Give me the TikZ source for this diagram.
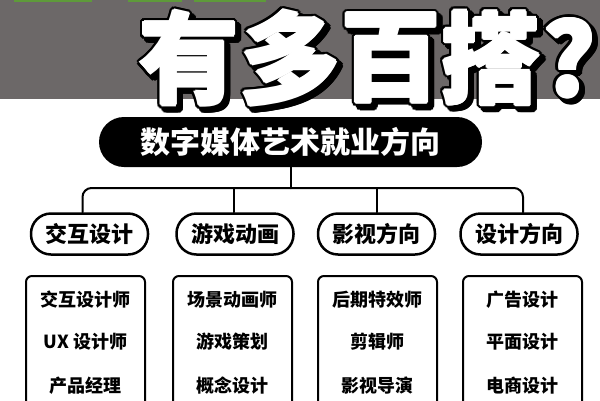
\documentclass[tikz,border=0pt]{standalone}
\usepackage{fontspec}
\newfontfamily\cjk{Noto Sans CJK SC}
\definecolor{bandgray}{HTML}{6C6868}
\definecolor{lgreen}{HTML}{5E9A3A}
\tikzset{
  conn/.style={line width=2pt, line cap=round},
  mainpill/.style={fill=black, rounded corners=25pt, minimum width=383pt, minimum height=50pt, inner sep=0pt, text=white, font=\cjk\bfseries\fontsize{30pt}{30pt}\selectfont},
  catpill/.style={draw=black, line width=2.5pt, fill=white, rounded corners=20pt, minimum width=117pt, minimum height=41pt, inner sep=0pt, font=\cjk\bfseries\fontsize{22pt}{22pt}\selectfont},
  jobbox/.style={draw=black, line width=2pt, rounded corners=6pt},
  jobtext/.style={font=\cjk\bfseries\fontsize{18pt}{18pt}\selectfont, inner sep=0pt},
  ttl/.style={font=\cjk\bfseries\fontsize{100pt}{100pt}\selectfont, inner sep=0pt}
}
\newcommand\ttlglyph[3]{%
  \foreach \a in {0,22.5,...,337.5}{\node[ttl,text=black] at ($(#1,#2)+(4,4)+(\a:3.5)$) {#3};}
  \foreach \a in {0,22.5,...,337.5}{\node[ttl,text=black] at ($(#1,#2)+(\a:3.5)$) {#3};}
  \foreach \a in {0,45,...,315}{\node[ttl,text=white] at ($(#1,#2)+(\a:1.2)$) {#3};}
  \node[ttl,text=white] at (#1,#2) {#3};
}
\usetikzlibrary{calc}
\begin{document}
\begin{tikzpicture}[x=1pt,y=-1pt]
\useasboundingbox (0,0) rectangle (600,400);
\clip (0,0) rectangle (600,400);
\fill[white] (0,0) rectangle (600,400);
% gray band
\fill[bandgray] (0,0) rectangle (600,99);
% cut-off green remnants
\fill[lgreen] (14,0) rectangle (92,1.6);
\fill[lgreen] (128,0) rectangle (182,1.6);
\fill[lgreen] (194,0) rectangle (266,1.6);
% title
\ttlglyph{189}{58}{有}
\ttlglyph{290}{58}{多}
\ttlglyph{391}{58}{百}
\ttlglyph{491}{58}{搭}
\ttlglyph{569}{58}{?}
% main pill
\node[mainpill] (main) at (290.5,142) {数字媒体艺术就业方向};
% category pills
\node[catpill] (c1) at (89.5,234) {交互设计};
\node[catpill] (c2) at (235,234) {游戏动画};
\node[catpill] (c3) at (376.5,234) {影视方向};
\node[catpill] (c4) at (519,234) {设计方向};
% connectors
\coordinate (j) at (290.5,188);
\draw[conn] (main.south) -- (j);
\draw[conn, rounded corners=9pt] (j) -| ([xshift=-7pt]c1.north);
\draw[conn, rounded corners=9pt] (j) -| ([xshift=4pt]c4.north);
\draw[conn] (j) -| ([xshift=-1pt]c2.north);
\draw[conn] (j) -| ([xshift=0.5pt]c3.north);
% job boxes
\draw[jobbox] (26,276) rectangle (145,430);
\draw[jobbox] (173,276) rectangle (292,430);
\draw[jobbox] (318,276) rectangle (437,430);
\draw[jobbox] (463,276) rectangle (582,430);
\node[jobtext] (a1) at (85.5,300) {交互设计师};
\node[jobtext] (a2) at (85.5,342) {UX 设计师};
\node[jobtext] (a3) at (85.5,386) {产品经理};
\node[jobtext] (b1) at (232.5,300) {场景动画师};
\node[jobtext] (b2) at (232.5,342) {游戏策划};
\node[jobtext] (b3) at (232.5,386) {概念设计};
\node[jobtext] (d1) at (377.5,300) {后期特效师};
\node[jobtext] (d2) at (377.5,342) {剪辑师};
\node[jobtext] (d3) at (377.5,386) {影视导演};
\node[jobtext] (e1) at (522.5,300) {广告设计};
\node[jobtext] (e2) at (522.5,342) {平面设计};
\node[jobtext] (e3) at (522.5,386) {电商设计};
\end{tikzpicture}
\end{document}
